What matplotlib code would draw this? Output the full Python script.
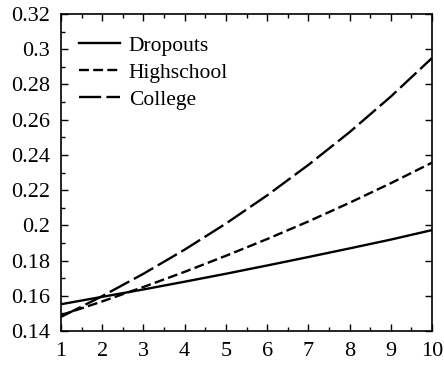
import matplotlib
matplotlib.use("Agg")
import matplotlib.pyplot as plt
from matplotlib.ticker import MultipleLocator, FixedLocator, FixedFormatter

# values
years = [1, 2, 3, 4, 5, 6, 7, 8, 9, 10]
dropouts = [0.1552, 0.1594, 0.1636, 0.1680, 0.1725, 0.1772, 0.1820, 0.1869, 0.1919, 0.1973]
highschool = [0.1490, 0.1568, 0.1650, 0.1736, 0.1827, 0.1922, 0.2022, 0.2128, 0.2239, 0.2356]
college = [0.1480, 0.1598, 0.1725, 0.1862, 0.2010, 0.2170, 0.2343, 0.2529, 0.2731, 0.2950]

x_ticks = [1, 2, 3, 4, 5, 6, 7, 8, 9, 10]
y_ticks = [0.14, 0.16, 0.18, 0.20, 0.22, 0.24, 0.26, 0.28, 0.30, 0.32]
y_labels = ["0.14", "0.16", "0.18", "0.2", "0.22", "0.24", "0.26", "0.28", "0.3", "0.32"]

plt.rcParams["font.family"] = ["Liberation Serif", "DejaVu Serif"]
plt.rcParams["font.size"] = 16

fig = plt.figure(figsize=(4.44, 3.66), dpi=100)
ax = fig.add_axes([61 / 444, 35 / 366, 371 / 444, 317 / 366])

lw = 1.7
ax.plot(years, dropouts, color="black", lw=lw, linestyle="-", label="Dropouts")
ax.plot(years, highschool, color="black", lw=lw, linestyle=(0, (4.2, 1.8)), label="Highschool")
ax.plot(years, college, color="black", lw=lw, linestyle=(0, (9.4, 2.2)), label="College")

ax.set_xlim(1, 10)
ax.set_ylim(0.14, 0.32)
ax.xaxis.set_major_locator(FixedLocator(x_ticks))
ax.xaxis.set_minor_locator(MultipleLocator(0.5))
ax.yaxis.set_major_locator(FixedLocator(y_ticks))
ax.yaxis.set_major_formatter(FixedFormatter(y_labels))
ax.yaxis.set_minor_locator(MultipleLocator(0.01))

ax.tick_params(which="both", direction="in", top=True, right=True, width=1.0)
ax.tick_params(which="major", length=5, pad=8, labelsize=16)
ax.tick_params(which="minor", length=3, right=False)
for s in ax.spines.values():
    s.set_linewidth(1.2)

ax.legend(loc="upper left", bbox_to_anchor=(0.0, 0.99), frameon=False,
          handlelength=1.9, handletextpad=0.4, labelspacing=0.33,
          borderaxespad=0.45, borderpad=0.4, fontsize=15.5)

fig.savefig("out.png", dpi=100)
